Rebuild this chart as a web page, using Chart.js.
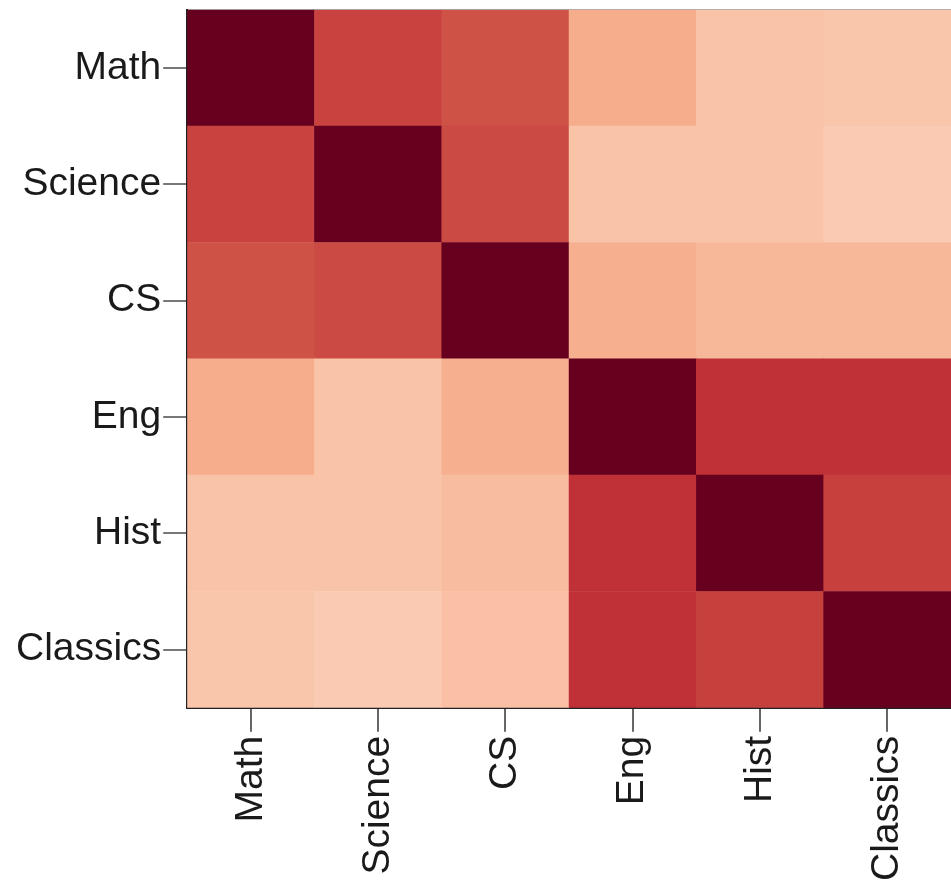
<!DOCTYPE html>
<html>
<head>
<meta charset="utf-8">
<script src="https://cdn.jsdelivr.net/npm/chart.js@4/dist/chart.umd.min.js"></script>
<style>
  html, body { margin: 0; padding: 0; background: #ffffff; }
  #wrap { width: 951px; height: 886px; }
</style>
</head>
<body>
<div id="wrap"><canvas id="c" width="951" height="886"></canvas></div>
<script>
// Subjects (columns left->right, rows top->bottom)
const categories = ['Math', 'Science', 'CS', 'Eng', 'Hist', 'Classics'];

// Correlation rows
const mathRow     = [1.00, 0.68, 0.64, 0.37, 0.29, 0.28];
const scienceRow  = [0.68, 1.00, 0.66, 0.29, 0.29, 0.26];
const csRow       = [0.64, 0.66, 1.00, 0.36, 0.33, 0.33];
const engRow      = [0.37, 0.29, 0.36, 1.00, 0.73, 0.73];
const histRow     = [0.29, 0.29, 0.31, 0.73, 1.00, 0.69];
const classicsRow = [0.28, 0.26, 0.30, 0.73, 0.69, 1.00];

const rows = [mathRow, scienceRow, csRow, engRow, histRow, classicsRow];

// RdBu diverging scale (value -1 .. 1)
const rdbuStops = [
  [-1.0, [5, 48, 97]], [-0.8, [33, 102, 172]], [-0.6, [67, 147, 195]],
  [-0.4, [146, 197, 222]], [-0.2, [209, 229, 240]], [0.0, [247, 247, 247]],
  [0.2, [253, 219, 199]], [0.4, [244, 165, 130]], [0.6, [214, 96, 77]],
  [0.8, [178, 24, 43]], [1.0, [103, 0, 31]]
];
function rdbu(v) {
  v = Math.max(-1, Math.min(1, v));
  for (let i = 0; i < rdbuStops.length - 1; i++) {
    const [a, ca] = rdbuStops[i], [b, cb] = rdbuStops[i + 1];
    if (v >= a && v <= b) {
      const t = (v - a) / (b - a);
      const c = ca.map((x, k) => Math.round(x + (cb[k] - x) * t));
      return `rgb(${c[0]},${c[1]},${c[2]})`;
    }
  }
  return 'rgb(103,0,31)';
}

// One stacked dataset per row; bottom row first so Math ends on top
const datasets = [];
for (let r = rows.length - 1; r >= 0; r--) {
  datasets.push({
    label: categories[r],
    data: rows[r].map(() => 1),
    corr: rows[r],
    backgroundColor: rows[r].map(v => rdbu(v)),
    borderWidth: 0,
    barPercentage: 1,
    categoryPercentage: 1,
    stack: 'm'
  });
}

const FAMILY = '"Liberation Sans", Arial, sans-serif';

new Chart(document.getElementById('c'), {
  type: 'bar',
  data: { labels: categories, datasets },
  options: {
    responsive: false,
    animation: false,
    layout: { padding: { left: 14, right: 0, top: 6, bottom: 1 } },
    plugins: { legend: { display: false }, tooltip: { enabled: false } },
    scales: {
      x: {
        type: 'category',
        stacked: true,
        offset: true,
        grid: { display: true, drawOnChartArea: false, drawTicks: true, offset: false,
                tickLength: 24, color: '#666', lineWidth: 2 },
        border: { display: true, color: '#222', width: 2 },
        ticks: { autoSkip: false, minRotation: 90, maxRotation: 90, padding: 4,
                 color: '#1a1a1a', font: { family: FAMILY, size: 39 } }
      },
      xTop: {
        type: 'category',
        position: 'top',
        labels: categories,
        grid: { display: false, drawTicks: false },
        border: { display: true, color: 'rgba(90,90,90,0.5)', width: 2 },
        ticks: { display: false }
      },
      y: {
        type: 'linear',
        stacked: true,
        min: 0,
        max: categories.length,
        afterBuildTicks: (axis) => {
          axis.ticks = categories.map((_, i) => ({ value: i + 0.5 }));
        },
        grid: { display: true, drawOnChartArea: false, drawTicks: true,
                tickLength: 24, color: '#777', lineWidth: 2 },
        border: { display: true, color: '#222', width: 2 },
        ticks: {
          padding: 2,
          color: '#1a1a1a',
          font: { family: FAMILY, size: 39, lineHeight: 0.4 },
          callback: (value, index) => categories[categories.length - 1 - index]
        }
      }
    }
  }
});
</script>
</body>
</html>
